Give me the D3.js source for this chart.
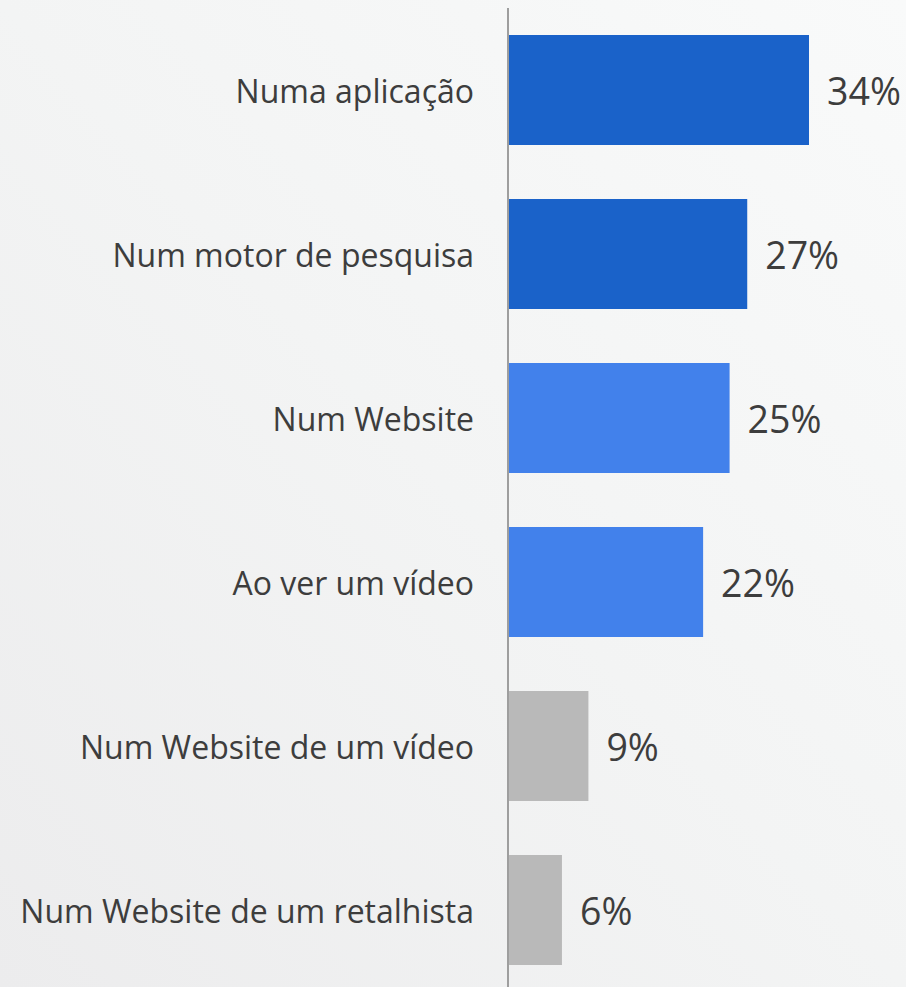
<!DOCTYPE html>
<html>
<head>
<meta charset="utf-8">
<script src="https://cdn.jsdelivr.net/npm/d3@7"></script>
<style>
  html,body{margin:0;padding:0;background:#f3f4f4;}
  svg{display:block;}
</style>
</head>
<body>
<svg id="chart" width="906" height="987"></svg>
<script>
// dados
var categorias = ["Numa aplicação","Num motor de pesquisa","Num Website","Ao ver um vídeo","Num Website de um vídeo","Num Website de um retalhista"];
var valores = [34, 27, 25, 22, 9, 6];
var grupos = ["forte","forte","medio","medio","fraco","fraco"];

var W = 906, H = 987;
var eixoX = 508;

var svg = d3.select("#chart");

// fundo com gradiente suave
var defs = svg.append("defs");
var grad = defs.append("linearGradient")
    .attr("id","fundo")
    .attr("x1","100%").attr("y1","0%")
    .attr("x2","0%").attr("y2","100%");
grad.append("stop").attr("offset","0%").attr("stop-color","#f9fafa");
grad.append("stop").attr("offset","50%").attr("stop-color","#f3f4f4");
grad.append("stop").attr("offset","100%").attr("stop-color","#ececed");

svg.append("rect")
    .attr("width",W).attr("height",H)
    .attr("fill","url(#fundo)");

var cor = d3.scaleOrdinal()
    .domain(["forte","medio","fraco"])
    .range(["#1a62c9","#4281eb","#b9b9b9"]);

var x = d3.scaleLinear()
    .domain([0, 34])
    .range([eixoX + 1, 809]);

var pInner = 54/164;
var y = d3.scaleBand()
    .domain(categorias)
    .range([8, 992])
    .paddingInner(pInner)
    .paddingOuter(pInner/2);

var g = svg.append("g");

g.selectAll("rect.barra")
  .data(valores)
  .enter().append("rect")
    .attr("class","barra")
    .attr("x", x(0))
    .attr("y", function(d,i){ return y(categorias[i]); })
    .attr("width", function(d){ return x(d) - x(0); })
    .attr("height", y.bandwidth())
    .attr("fill", function(d,i){ return cor(grupos[i]); });

// eixo vertical
var yAxis = d3.axisLeft(y).tickSize(0).tickPadding(34);
var ga = svg.append("g")
    .attr("transform","translate(" + eixoX + ",0)")
    .call(yAxis);
ga.select(".domain").remove();
ga.selectAll("text")
    .attr("dy","0.42em")
    .attr("fill","#3d3d3d")
    .attr("font-family","'Open Sans', sans-serif")
    .attr("font-size","32px");

svg.append("line")
    .attr("x1", eixoX).attr("x2", eixoX)
    .attr("y1", 8).attr("y2", H)
    .attr("stroke","#9e9e9e")
    .attr("stroke-width",2);

// rótulos de valor
g.selectAll("text.valor")
  .data(valores)
  .enter().append("text")
    .attr("class","valor")
    .attr("x", function(d){ return x(d) + 18; })
    .attr("y", function(d,i){ return y(categorias[i]) + y.bandwidth()/2; })
    .attr("dy","0.4em")
    .attr("fill","#3d3d3d")
    .attr("font-family","'Open Sans', sans-serif")
    .attr("font-size","37.5px")
    .text(function(d){ return d + "%"; });
</script>
</body>
</html>
